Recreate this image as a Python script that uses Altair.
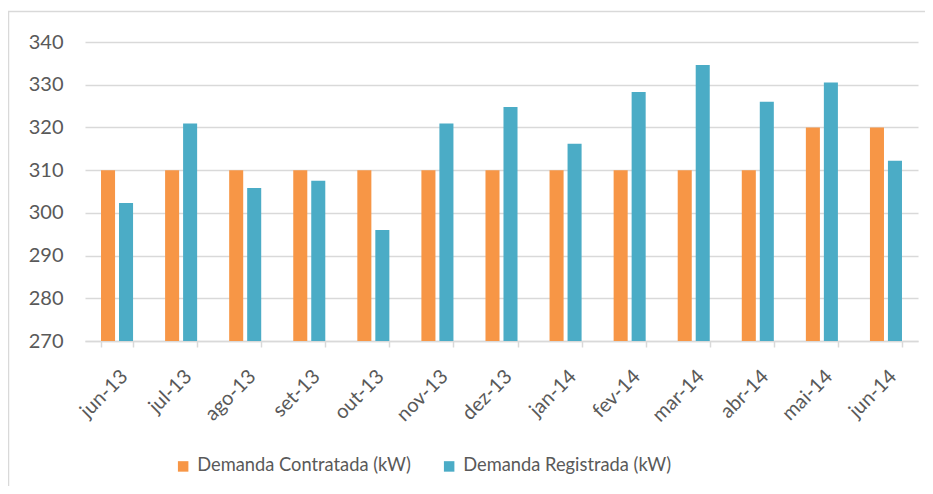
import altair as alt
import pandas as pd

categories = ["jun-13", "jul-13", "ago-13", "set-13", "out-13", "nov-13", "dez-13",
              "jan-14", "fev-14", "mar-14", "abr-14", "mai-14", "jun-14"]
contratada = [310, 310, 310, 310, 310, 310, 310, 310, 310, 310, 310, 320, 320]
registrada = [302.3, 320.9, 305.8, 307.5, 296.0, 320.9, 324.8, 316.2, 328.3, 334.6, 326.0, 330.5, 312.2]
series = ["Demanda Contratada (kW)", "Demanda Registrada (kW)"]
colors = ["#F79646", "#4BACC6"]
y_ticks = [270, 280, 290, 300, 310, 320, 330, 340]

rows = []
for c, a, b in zip(categories, contratada, registrada):
    rows.append({"mes": c, "serie": series[0], "valor": a})
    rows.append({"mes": c, "serie": series[1], "valor": b})
df = pd.DataFrame(rows)

FONT = "Lato"
TXT = "#595959"
GRID = "#D9D9D9"

bars = alt.Chart(df).mark_bar().encode(
    x=alt.X("mes:N", sort=categories, title=None,
            scale=alt.Scale(paddingInner=0.5, paddingOuter=0.25),
            axis=alt.Axis(labelAngle=-45, labelFont=FONT, labelFontSize=20, labelColor=TXT,
                          tickBand="extent", tickColor=GRID, tickSize=6, tickWidth=1.5,
                          domainColor=GRID, domainWidth=1.5, labelPadding=19, grid=False)),
    xOffset=alt.XOffset("serie:N", sort=series, scale=alt.Scale(paddingInner=0.22)),
    y=alt.Y("valor:Q", title=None,
            scale=alt.Scale(domain=[270, 340], zero=False, nice=False),
            axis=alt.Axis(values=y_ticks, labelFont=FONT, labelFontSize=20, labelColor=TXT,
                          domain=False, ticks=False, labelPadding=22,
                          gridColor=GRID, gridWidth=1.5)),
    y2=alt.datum(270),
    color=alt.Color("serie:N", sort=series,
                    scale=alt.Scale(domain=series, range=colors),
                    legend=alt.Legend(title=None, orient="none", direction="horizontal",
                                      legendX=89, legendY=415,
                                      symbolType="square", symbolSize=110,
                                      symbolStrokeWidth=0, labelFont=FONT,
                                      labelFontSize=18.3, labelColor=TXT,
                                      labelOffset=5, columnPadding=29,
                                      labelLimit=400)),
)

border_data = alt.Data(values=[{}])
top_border = alt.Chart(border_data).mark_rule(color=GRID, strokeWidth=1.5).encode(
    x=alt.value(-77), x2=alt.value(860), y=alt.value(-30.5))
left_border = alt.Chart(border_data).mark_rule(color=GRID, strokeWidth=1.5).encode(
    x=alt.value(-76.5), y=alt.value(-31), y2=alt.value(460))

chart = alt.layer(top_border, left_border, bars).properties(
    width=833, height=299,
    autosize=alt.AutoSizeParams(type="none"),
    padding={"left": 77, "top": 34, "right": 7, "bottom": 145},
).configure_view(stroke=None)

chart.save("out.html", embed_options={"renderer": "svg", "actions": False})
